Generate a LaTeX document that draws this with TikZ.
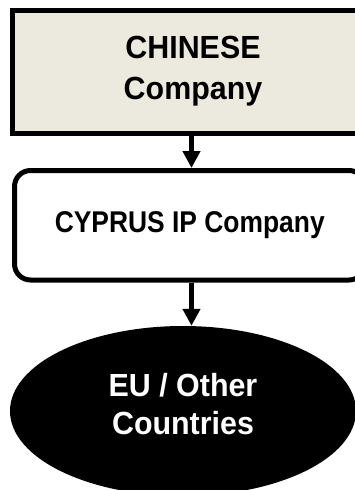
\documentclass[tikz,border=0pt]{standalone}
\usepackage{fontspec}
\setmainfont{Liberation Sans}
\newfontfamily\labelfont{Liberation Sans}[FakeStretch=0.95]
\newfontfamily\narrowfont{Liberation Sans}[FakeStretch=0.88]
\usetikzlibrary{arrows.meta,shapes.geometric}
\definecolor{boxbeige}{RGB}{236,233,223}

\begin{document}
\begin{tikzpicture}[x=1pt,y=1pt,
  frame/.style={draw=black, line width=5pt, align=center, inner sep=0pt},
  bigtext/.style={font=\labelfont\bfseries\fontsize{32}{41}\selectfont},
  flow/.style={line width=4.5pt, -{Triangle[length=17pt,width=17pt]}}]
\useasboundingbox (0,0) rectangle (354,-490);

% parent company
\node[frame, bigtext, fill=boxbeige, rectangle,
      minimum width=361.5pt, minimum height=123pt] (cn) at (193,-71.5)
  {CHINESE\\Company};

% intermediate IP holding company
\node[frame, rectangle, rounded corners=16pt,
      font=\narrowfont\bfseries\fontsize{30}{35}\selectfont,
      minimum width=350.5pt, minimum height=109.5pt] (cy) at (189.75,-225.25)
  {CYPRUS IP Company};

% target markets
\node[ellipse, fill=black, text=white, align=center, inner sep=0pt,
      font=\labelfont\bfseries\fontsize{32}{38}\selectfont, text depth=14pt,
      minimum width=346pt, minimum height=170pt] (eu) at (183,-411)
  {EU / Other\\Countries};

\draw[flow] (cn.south -| 191.5,0) -- (cy.north -| 191.5,0);
\draw[flow] (cy.south -| 191.5,0) -- (eu.north -| 191.5,0);
\end{tikzpicture}
\end{document}
